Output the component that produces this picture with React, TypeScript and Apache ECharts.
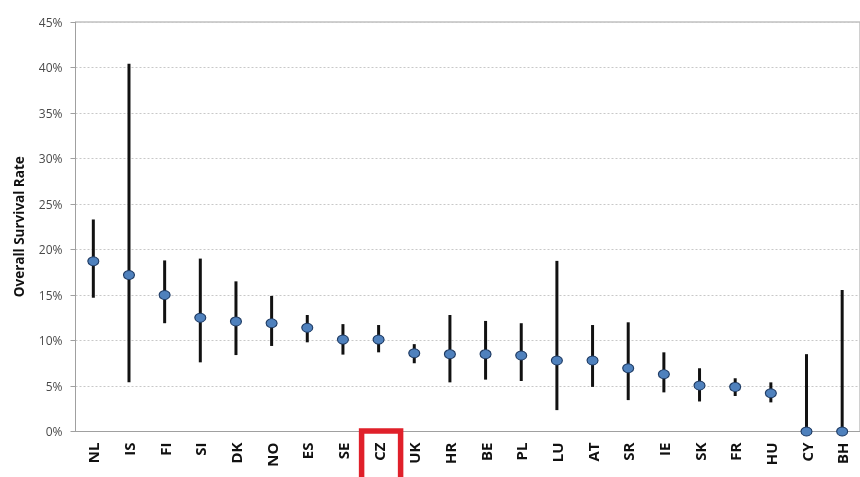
import React, { useEffect, useRef } from "react";
import * as echarts from "echarts";

const categories = ["NL", "IS", "FI", "SI", "DK", "NO", "ES", "SE", "CZ", "UK", "HR", "BE", "PL", "LU", "AT", "SR", "IE", "SK", "FR", "HU", "CY", "BH"];
const survivalRate = [18.7, 17.2, 15.0, 12.5, 12.1, 11.9, 11.4, 10.1, 10.1, 8.6, 8.5, 8.5, 8.35, 7.8, 7.8, 6.95, 6.3, 5.05, 4.9, 4.2, 0, 0];
const upperBound = [23.3, 40.4, 18.8, 19.0, 16.5, 14.9, 12.8, 11.8, 11.7, 9.6, 12.8, 12.15, 11.9, 18.75, 11.7, 12.0, 8.7, 6.95, 5.85, 5.4, 8.5, 15.55];
const lowerBound = [14.7, 5.4, 11.9, 7.6, 8.4, 9.4, 9.8, 8.45, 8.7, 7.5, 5.4, 5.7, 5.55, 2.35, 4.9, 3.45, 4.3, 3.3, 3.9, 3.2, 0, 0];
const highlighted = "CZ";
const yTicks = { min: 0, max: 45, interval: 5 };

export default function App() {
  const ref = useRef<HTMLDivElement>(null);
  useEffect(() => {
    if (!ref.current) return;
    const chart = echarts.init(ref.current, null, { renderer: "svg" });
    const errData = categories.map((c, i) => [i, lowerBound[i], upperBound[i]]);
    chart.setOption({
      animation: false,
      grid: {
        left: 75.5,
        right: -7.5,
        top: 22,
        bottom: 45.5,
        show: true,
        borderColor: "#a0a0a0",
        borderWidth: 1,
      },
      xAxis: {
        type: "category",
        data: categories,
        axisLine: { lineStyle: { color: "#a0a0a0", width: 1 } },
        axisTick: { show: false },
        axisLabel: {
          rotate: 90,
          margin: 11,
          color: "#111",
          fontWeight: "bold",
          fontSize: 15,
          fontFamily: "Open Sans",
          interval: 0,
        },
      },
      yAxis: {
        type: "value",
        min: yTicks.min,
        max: yTicks.max,
        interval: yTicks.interval,
        name: "Overall Survival Rate",
        nameLocation: "middle",
        nameGap: 50,
        nameTextStyle: { color: "#111", fontWeight: "bold", fontSize: 13.5, fontFamily: "Open Sans" },
        axisLine: { show: true, lineStyle: { color: "#a0a0a0" } },
        axisTick: { show: true, length: 5, lineStyle: { color: "#a0a0a0" } },
        axisLabel: {
          formatter: "{value}%",
          color: "#4a4a4a",
          fontSize: 12,
          fontFamily: "Open Sans",
          margin: 13,
        },
        splitLine: { lineStyle: { color: "#c8c8c8", type: [2, 2], width: 1 } },
      },
      series: [
        {
          type: "custom",
          data: errData,
          z: 2,
          renderItem: (params: any, api: any) => {
            const p1 = api.coord([api.value(0), api.value(1)]);
            const p2 = api.coord([api.value(0), api.value(2)]);
            return {
              type: "line",
              shape: { x1: p1[0], y1: p1[1], x2: p2[0], y2: p2[1] },
              style: { stroke: "#111", lineWidth: 3 },
            };
          },
          clip: false,
        },
        {
          type: "scatter",
          data: survivalRate,
          z: 3,
          symbol: "circle",
          symbolSize: [11, 9],
          clip: false,
          itemStyle: { color: "#4f81bd", borderColor: "#1f3b63", borderWidth: 1, opacity: 1 },
        },
      ],
    });
    const cx = chart.convertToPixel({ xAxisIndex: 0 }, highlighted) as number;
    const y0 = chart.convertToPixel({ yAxisIndex: 0 }, 0) as number;
    chart.setOption({
      graphic: [
        {
          type: "rect",
          z: 100,
          shape: { x: cx - 17, y: y0 - 0.5, width: 39, height: 70 },
          style: { fill: "none", stroke: "#e0202a", lineWidth: 5.5 },
        },
      ],
    });
    return () => chart.dispose();
  }, []);
  return <div ref={ref} style={{ position: "fixed", left: 0, top: 0, width: 860, height: 477 }} />;
}
